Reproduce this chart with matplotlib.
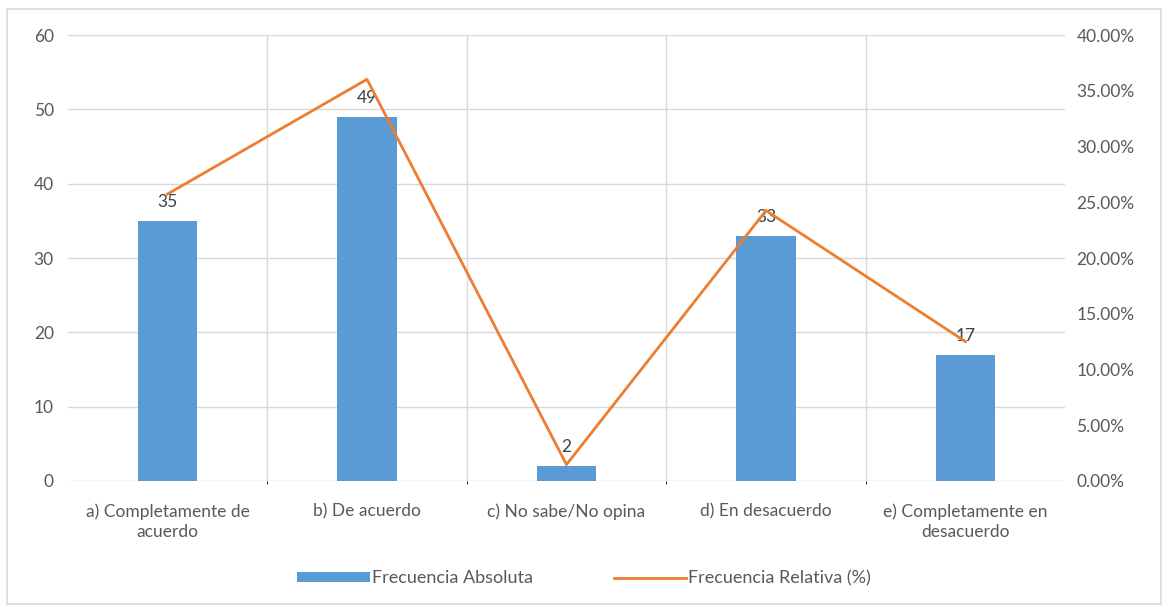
"""Frecuencia absoluta y relativa por categoría de respuesta."""
import matplotlib.pyplot as plt
from matplotlib.patches import Rectangle
from matplotlib.ticker import FuncFormatter, MultipleLocator
import numpy as np

categorias = [
    "a) Completamente de\nacuerdo",
    "b) De acuerdo",
    "c) No sabe/No opina",
    "d) En desacuerdo",
    "e) Completamente en\ndesacuerdo",
]
frec_absoluta = [35, 49, 2, 33, 17]
frec_relativa = [25.74, 36.03, 1.47, 24.26, 12.50]

AZUL = "#5B9BD5"
NARANJA = "#ED7D31"
TEXTO = "#595959"
REJILLA = "#D9D9D9"

plt.rcParams["font.family"] = ["Lato", "DejaVu Sans"]

fig = plt.figure(figsize=(11.68, 6.10), dpi=100)
fig.patches.append(Rectangle((0.006, 0.01), 0.988, 0.975, transform=fig.transFigure,
                             fill=False, edgecolor=REJILLA, linewidth=1.2))

ax = fig.add_axes([0.058, 0.2115, 0.854, 0.731])
x = np.arange(len(categorias))
barras = ax.bar(x, frec_absoluta, width=0.3, color=AZUL, zorder=2, label="Frecuencia Absoluta")
ax.set_xlim(-0.5, len(categorias) - 0.5)
ax.set_ylim(0, 60)
ax.yaxis.set_major_locator(MultipleLocator(10))
ax.set_xticks(x)
ax.set_xticklabels(categorias, fontsize=12.5, color=TEXTO, linespacing=1.35)
ax.set_xticks(np.arange(0.5, len(categorias) - 0.5, 1), minor=True)
ax.tick_params(axis="both", length=0, labelsize=12.5, labelcolor=TEXTO)
ax.tick_params(axis="x", pad=16)
ax.tick_params(axis="y", pad=10)
ax.grid(axis="y", color=REJILLA, linewidth=1, zorder=0)
ax.grid(axis="x", which="minor", color=REJILLA, linewidth=1, zorder=0)
for lado in ax.spines.values():
    lado.set_visible(False)

for xi, v in zip(x, frec_absoluta):
    ax.annotate(str(v), (xi, v), xytext=(0, 8), textcoords="offset points",
                ha="center", va="bottom", fontsize=12.5, color="#404040", zorder=4)

ax2 = ax.twinx()
linea, = ax2.plot(x, frec_relativa, color=NARANJA, linewidth=2, zorder=3,
                  label="Frecuencia Relativa (%)")
ax2.set_ylim(0, 40)
ax2.yaxis.set_major_locator(MultipleLocator(5))
ax2.yaxis.set_major_formatter(FuncFormatter(lambda v, _: f"{v:.2f}%"))
ax2.tick_params(axis="y", length=0, labelsize=12.5, labelcolor=TEXTO, pad=8)
for lado in ax2.spines.values():
    lado.set_visible(False)

fig.legend([barras, linea], ["Frecuencia Absoluta", "Frecuencia Relativa (%)"],
           loc="center", bbox_to_anchor=(0.5, 0.052), ncol=2, frameon=False,
           fontsize=13, labelcolor=TEXTO, handlelength=4.0, handleheight=0.45,
           handletextpad=0.1, columnspacing=4.5)

fig.savefig("out.png", dpi=100, facecolor="white")
